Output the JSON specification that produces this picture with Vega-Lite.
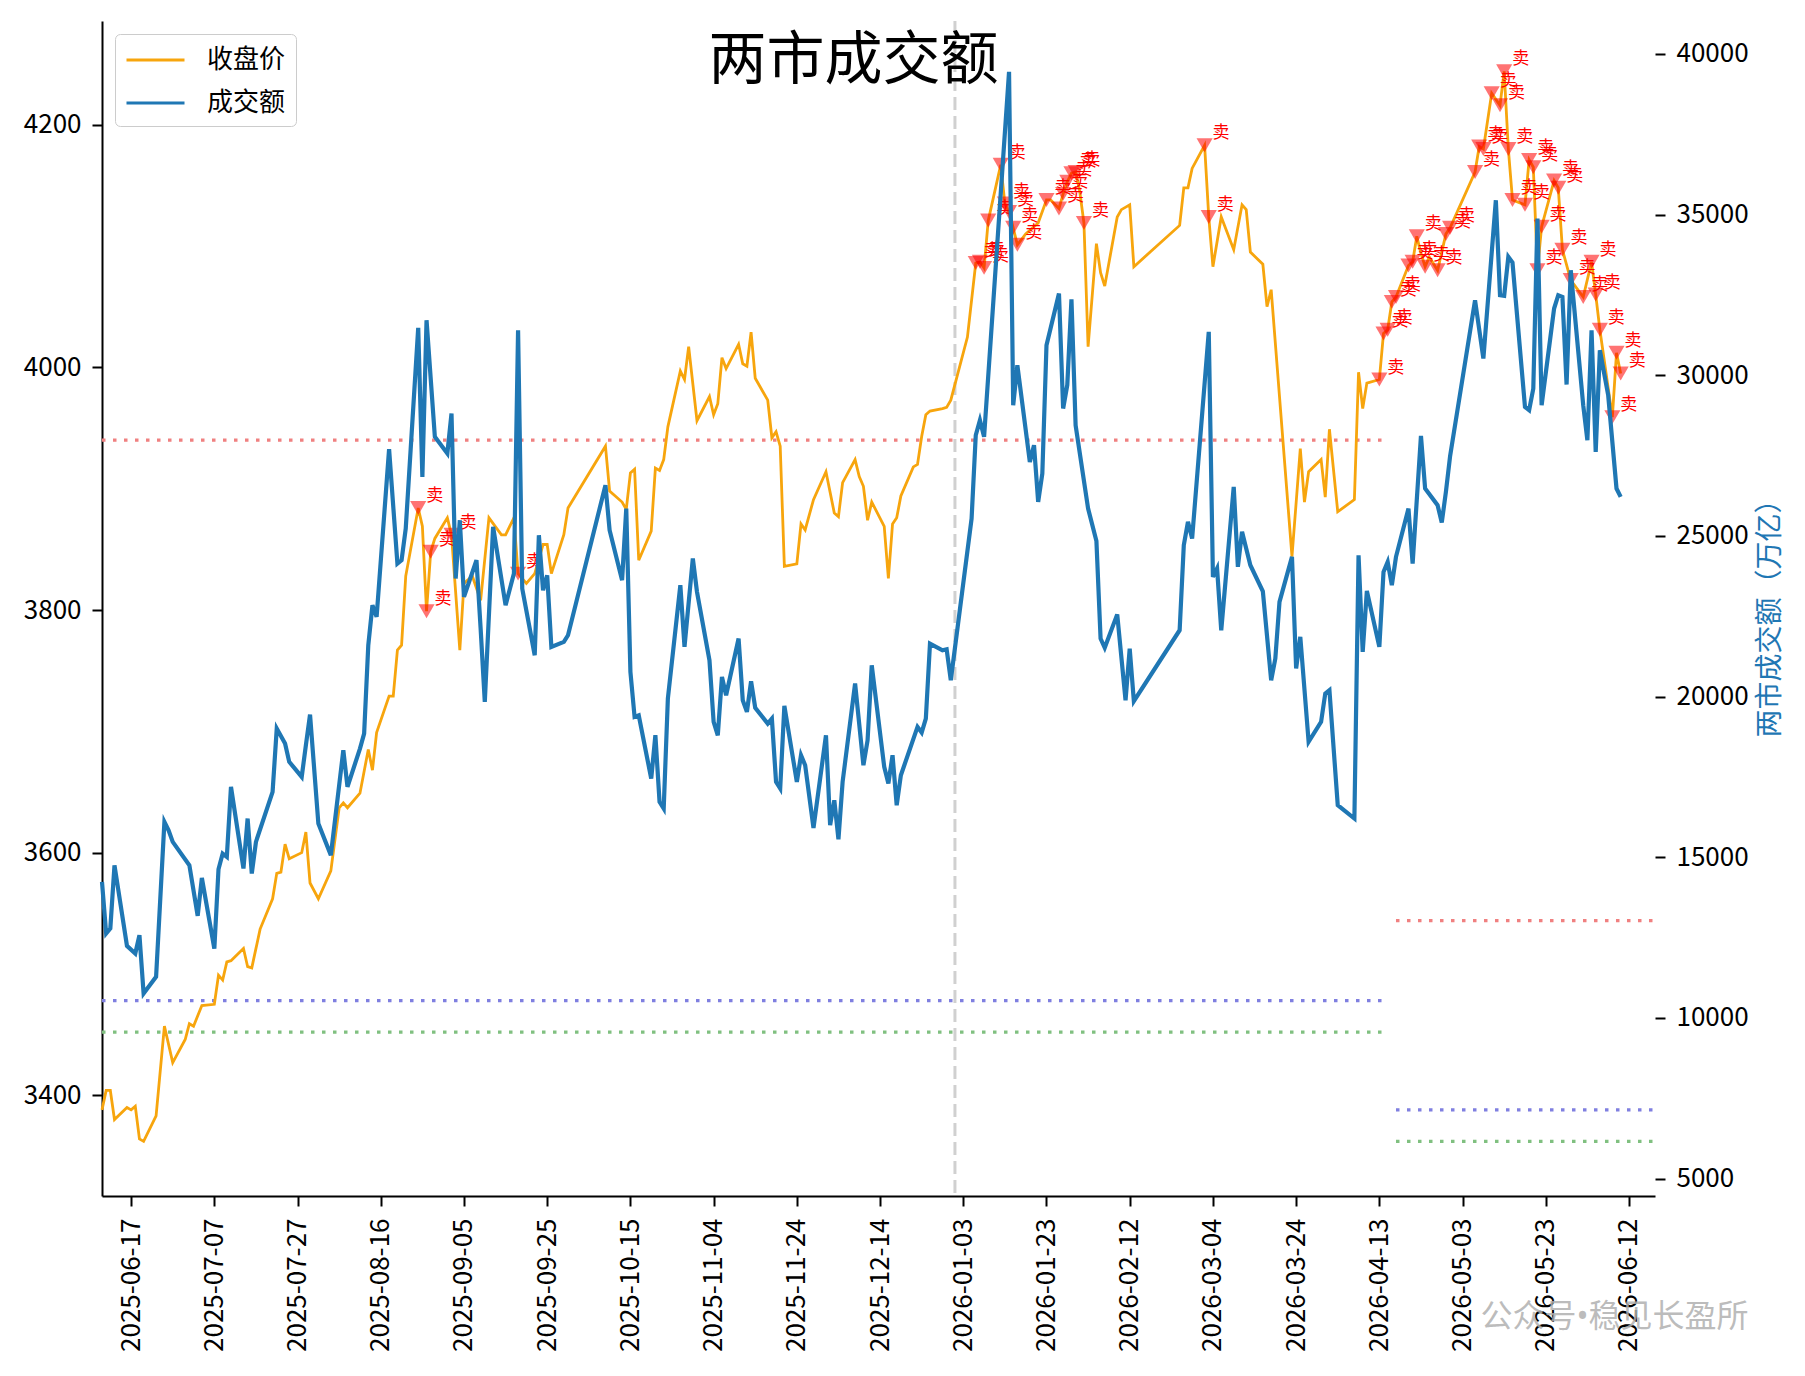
{
  "$schema": "https://vega.github.io/schema/vega-lite/v6.json",
  "autosize": {"type": "none"},
  "padding": {"left": 102, "top": 21, "right": 150, "bottom": 180},
  "width": 1553,
  "height": 1175,
  "title": {
    "text": "两市成交额",
    "font": "Noto Sans CJK SC",
    "fontSize": 58,
    "fontWeight": "normal",
    "color": "black",
    "anchor": "middle",
    "offset": -71,
    "dx": -25
  },
  "config": {
    "font": "Noto Sans CJK SC",
    "view": {"stroke": null},
    "axis": {
      "grid": false,
      "labelFont": "Noto Sans CJK SC",
      "labelFontSize": 26,
      "labelColor": "black",
      "tickColor": "black",
      "tickSize": 10,
      "tickWidth": 2,
      "domainColor": "black",
      "domainWidth": 2,
      "labelPadding": 11
    },
    "legend": {
      "orient": "top-left",
      "offset": 13,
      "padding": 10,
      "rowPadding": 14,
      "labelFont": "Noto Sans CJK SC",
      "labelFontSize": 26,
      "labelColor": "black",
      "labelOffset": 50,
      "labelLimit": 300,
      "symbolType": "M-1,0H3",
      "symbolSize": 841,
      "symbolStrokeWidth": 3,
      "strokeColor": "#cccccc",
      "fillColor": "#ffffff",
      "cornerRadius": 5
    }
  },
  "datasets": {
    "close": [
      {"date": "2025-06-10", "close": 3388}, {"date": "2025-06-11", "close": 3404}, {"date": "2025-06-12", "close": 3404},
      {"date": "2025-06-13", "close": 3380}, {"date": "2025-06-16", "close": 3390}, {"date": "2025-06-17", "close": 3388},
      {"date": "2025-06-18", "close": 3391}, {"date": "2025-06-19", "close": 3364}, {"date": "2025-06-20", "close": 3362},
      {"date": "2025-06-23", "close": 3383}, {"date": "2025-06-25", "close": 3457}, {"date": "2025-06-27", "close": 3427},
      {"date": "2025-06-30", "close": 3446}, {"date": "2025-07-01", "close": 3459}, {"date": "2025-07-02", "close": 3457},
      {"date": "2025-07-04", "close": 3474}, {"date": "2025-07-07", "close": 3475}, {"date": "2025-07-08", "close": 3499},
      {"date": "2025-07-09", "close": 3495}, {"date": "2025-07-10", "close": 3510}, {"date": "2025-07-11", "close": 3511},
      {"date": "2025-07-14", "close": 3521}, {"date": "2025-07-15", "close": 3506}, {"date": "2025-07-16", "close": 3505},
      {"date": "2025-07-18", "close": 3537}, {"date": "2025-07-21", "close": 3562}, {"date": "2025-07-22", "close": 3583},
      {"date": "2025-07-23", "close": 3584}, {"date": "2025-07-24", "close": 3607}, {"date": "2025-07-25", "close": 3595},
      {"date": "2025-07-28", "close": 3600}, {"date": "2025-07-29", "close": 3617}, {"date": "2025-07-30", "close": 3575},
      {"date": "2025-08-01", "close": 3562}, {"date": "2025-08-04", "close": 3585}, {"date": "2025-08-06", "close": 3637},
      {"date": "2025-08-07", "close": 3641}, {"date": "2025-08-08", "close": 3637}, {"date": "2025-08-11", "close": 3649},
      {"date": "2025-08-13", "close": 3685}, {"date": "2025-08-14", "close": 3668}, {"date": "2025-08-15", "close": 3699},
      {"date": "2025-08-18", "close": 3729}, {"date": "2025-08-19", "close": 3729}, {"date": "2025-08-20", "close": 3767},
      {"date": "2025-08-21", "close": 3771}, {"date": "2025-08-22", "close": 3828}, {"date": "2025-08-25", "close": 3884, "signal": "卖"},
      {"date": "2025-08-26", "close": 3869}, {"date": "2025-08-27", "close": 3799, "signal": "卖"}, {"date": "2025-08-28", "close": 3848, "signal": "卖"},
      {"date": "2025-08-29", "close": 3859}, {"date": "2025-09-01", "close": 3876}, {"date": "2025-09-02", "close": 3862, "signal": "卖"},
      {"date": "2025-09-04", "close": 3767}, {"date": "2025-09-05", "close": 3822}, {"date": "2025-09-07", "close": 3828},
      {"date": "2025-09-09", "close": 3808}, {"date": "2025-09-11", "close": 3876}, {"date": "2025-09-14", "close": 3862},
      {"date": "2025-09-15", "close": 3862}, {"date": "2025-09-17", "close": 3876}, {"date": "2025-09-18", "close": 3830, "signal": "卖"},
      {"date": "2025-09-20", "close": 3822}, {"date": "2025-09-22", "close": 3830}, {"date": "2025-09-24", "close": 3854},
      {"date": "2025-09-25", "close": 3854}, {"date": "2025-09-26", "close": 3830}, {"date": "2025-09-29", "close": 3862},
      {"date": "2025-09-30", "close": 3884}, {"date": "2025-10-09", "close": 3935}, {"date": "2025-10-10", "close": 3898},
      {"date": "2025-10-13", "close": 3889}, {"date": "2025-10-14", "close": 3883}, {"date": "2025-10-15", "close": 3913},
      {"date": "2025-10-16", "close": 3916}, {"date": "2025-10-17", "close": 3841}, {"date": "2025-10-20", "close": 3865},
      {"date": "2025-10-21", "close": 3917}, {"date": "2025-10-22", "close": 3915}, {"date": "2025-10-23", "close": 3924},
      {"date": "2025-10-24", "close": 3951}, {"date": "2025-10-27", "close": 3997}, {"date": "2025-10-28", "close": 3990},
      {"date": "2025-10-29", "close": 4017}, {"date": "2025-10-31", "close": 3956}, {"date": "2025-11-03", "close": 3976},
      {"date": "2025-11-04", "close": 3961}, {"date": "2025-11-05", "close": 3970}, {"date": "2025-11-06", "close": 4008},
      {"date": "2025-11-07", "close": 3999}, {"date": "2025-11-10", "close": 4019}, {"date": "2025-11-11", "close": 4003},
      {"date": "2025-11-12", "close": 4001}, {"date": "2025-11-13", "close": 4029}, {"date": "2025-11-14", "close": 3991},
      {"date": "2025-11-17", "close": 3973}, {"date": "2025-11-18", "close": 3942}, {"date": "2025-11-19", "close": 3947},
      {"date": "2025-11-20", "close": 3935}, {"date": "2025-11-21", "close": 3836}, {"date": "2025-11-24", "close": 3838},
      {"date": "2025-11-25", "close": 3871}, {"date": "2025-11-26", "close": 3866}, {"date": "2025-11-28", "close": 3891},
      {"date": "2025-12-01", "close": 3914}, {"date": "2025-12-03", "close": 3880}, {"date": "2025-12-04", "close": 3877},
      {"date": "2025-12-05", "close": 3905}, {"date": "2025-12-08", "close": 3924}, {"date": "2025-12-09", "close": 3910},
      {"date": "2025-12-10", "close": 3902}, {"date": "2025-12-11", "close": 3874}, {"date": "2025-12-12", "close": 3889},
      {"date": "2025-12-15", "close": 3869}, {"date": "2025-12-16", "close": 3826}, {"date": "2025-12-17", "close": 3871},
      {"date": "2025-12-18", "close": 3876}, {"date": "2025-12-19", "close": 3894}, {"date": "2025-12-22", "close": 3918},
      {"date": "2025-12-23", "close": 3920}, {"date": "2025-12-24", "close": 3943}, {"date": "2025-12-25", "close": 3961},
      {"date": "2025-12-26", "close": 3964}, {"date": "2025-12-29", "close": 3966}, {"date": "2025-12-30", "close": 3967},
      {"date": "2025-12-31", "close": 3973}, {"date": "2026-01-04", "close": 4025}, {"date": "2026-01-06", "close": 4086, "signal": "卖"},
      {"date": "2026-01-07", "close": 4087, "signal": "卖"}, {"date": "2026-01-08", "close": 4082, "signal": "卖"}, {"date": "2026-01-09", "close": 4121, "signal": "卖"},
      {"date": "2026-01-12", "close": 4167, "signal": "卖"}, {"date": "2026-01-13", "close": 4135, "signal": "卖"}, {"date": "2026-01-14", "close": 4128, "signal": "卖"},
      {"date": "2026-01-15", "close": 4115, "signal": "卖"}, {"date": "2026-01-16", "close": 4101, "signal": "卖"}, {"date": "2026-01-18", "close": 4110},
      {"date": "2026-01-21", "close": 4119}, {"date": "2026-01-23", "close": 4138, "signal": "卖"}, {"date": "2026-01-24", "close": 4138},
      {"date": "2026-01-26", "close": 4131, "signal": "卖"}, {"date": "2026-01-27", "close": 4143, "signal": "卖"}, {"date": "2026-01-28", "close": 4153, "signal": "卖"},
      {"date": "2026-01-29", "close": 4160, "signal": "卖"}, {"date": "2026-01-30", "close": 4161, "signal": "卖"}, {"date": "2026-01-31", "close": 4145},
      {"date": "2026-02-01", "close": 4119, "signal": "卖"}, {"date": "2026-02-02", "close": 4017}, {"date": "2026-02-04", "close": 4102},
      {"date": "2026-02-05", "close": 4078}, {"date": "2026-02-06", "close": 4067}, {"date": "2026-02-09", "close": 4124},
      {"date": "2026-02-10", "close": 4130}, {"date": "2026-02-12", "close": 4134}, {"date": "2026-02-13", "close": 4083},
      {"date": "2026-02-24", "close": 4117}, {"date": "2026-02-25", "close": 4148}, {"date": "2026-02-26", "close": 4148},
      {"date": "2026-02-27", "close": 4164}, {"date": "2026-03-02", "close": 4183, "signal": "卖"}, {"date": "2026-03-03", "close": 4124, "signal": "卖"},
      {"date": "2026-03-04", "close": 4083}, {"date": "2026-03-06", "close": 4124}, {"date": "2026-03-09", "close": 4097},
      {"date": "2026-03-11", "close": 4134}, {"date": "2026-03-12", "close": 4130}, {"date": "2026-03-13", "close": 4095},
      {"date": "2026-03-16", "close": 4085}, {"date": "2026-03-17", "close": 4050}, {"date": "2026-03-18", "close": 4064},
      {"date": "2026-03-23", "close": 3844}, {"date": "2026-03-25", "close": 3933}, {"date": "2026-03-26", "close": 3889},
      {"date": "2026-03-27", "close": 3914}, {"date": "2026-03-30", "close": 3924}, {"date": "2026-03-31", "close": 3893},
      {"date": "2026-04-01", "close": 3949}, {"date": "2026-04-03", "close": 3881}, {"date": "2026-04-07", "close": 3891},
      {"date": "2026-04-08", "close": 3996}, {"date": "2026-04-09", "close": 3966}, {"date": "2026-04-10", "close": 3987},
      {"date": "2026-04-13", "close": 3990, "signal": "卖"}, {"date": "2026-04-14", "close": 4028, "signal": "卖"}, {"date": "2026-04-15", "close": 4031, "signal": "卖"},
      {"date": "2026-04-16", "close": 4054, "signal": "卖"}, {"date": "2026-04-17", "close": 4058, "signal": "卖"}, {"date": "2026-04-20", "close": 4084, "signal": "卖"},
      {"date": "2026-04-21", "close": 4087, "signal": "卖"}, {"date": "2026-04-22", "close": 4108, "signal": "卖"}, {"date": "2026-04-23", "close": 4094},
      {"date": "2026-04-24", "close": 4083, "signal": "卖"}, {"date": "2026-04-25", "close": 4091}, {"date": "2026-04-27", "close": 4080, "signal": "卖"},
      {"date": "2026-04-29", "close": 4110, "signal": "卖"}, {"date": "2026-04-30", "close": 4115, "signal": "卖"}, {"date": "2026-05-06", "close": 4161, "signal": "卖"},
      {"date": "2026-05-07", "close": 4182, "signal": "卖"}, {"date": "2026-05-08", "close": 4180, "signal": "卖"}, {"date": "2026-05-10", "close": 4226, "signal": "卖"},
      {"date": "2026-05-12", "close": 4216, "signal": "卖"}, {"date": "2026-05-13", "close": 4244, "signal": "卖"}, {"date": "2026-05-14", "close": 4180, "signal": "卖"},
      {"date": "2026-05-15", "close": 4138, "signal": "卖"}, {"date": "2026-05-18", "close": 4134, "signal": "卖"}, {"date": "2026-05-19", "close": 4171, "signal": "卖"},
      {"date": "2026-05-20", "close": 4165, "signal": "卖"}, {"date": "2026-05-21", "close": 4080, "signal": "卖"}, {"date": "2026-05-22", "close": 4116, "signal": "卖"},
      {"date": "2026-05-25", "close": 4154, "signal": "卖"}, {"date": "2026-05-26", "close": 4148, "signal": "卖"}, {"date": "2026-05-27", "close": 4097, "signal": "卖"},
      {"date": "2026-05-29", "close": 4072, "signal": "卖"}, {"date": "2026-06-01", "close": 4058, "signal": "卖"}, {"date": "2026-06-03", "close": 4087, "signal": "卖"},
      {"date": "2026-06-04", "close": 4060, "signal": "卖"}, {"date": "2026-06-05", "close": 4031, "signal": "卖"}, {"date": "2026-06-08", "close": 3959, "signal": "卖"},
      {"date": "2026-06-09", "close": 4012, "signal": "卖"}, {"date": "2026-06-10", "close": 3995, "signal": "卖"}
    ],
    "amount": [
      {"date": "2025-06-10", "amount": 14236}, {"date": "2025-06-11", "amount": 12627}, {"date": "2025-06-12", "amount": 12783},
      {"date": "2025-06-13", "amount": 14752}, {"date": "2025-06-16", "amount": 12244}, {"date": "2025-06-18", "amount": 12004},
      {"date": "2025-06-19", "amount": 12574}, {"date": "2025-06-20", "amount": 10760}, {"date": "2025-06-23", "amount": 11279},
      {"date": "2025-06-25", "amount": 16103}, {"date": "2025-06-26", "amount": 15843}, {"date": "2025-06-27", "amount": 15480},
      {"date": "2025-07-01", "amount": 14752}, {"date": "2025-07-03", "amount": 13178}, {"date": "2025-07-04", "amount": 14360},
      {"date": "2025-07-07", "amount": 12160}, {"date": "2025-07-08", "amount": 14628}, {"date": "2025-07-09", "amount": 15116},
      {"date": "2025-07-10", "amount": 15013}, {"date": "2025-07-11", "amount": 17192}, {"date": "2025-07-14", "amount": 14650},
      {"date": "2025-07-15", "amount": 16206}, {"date": "2025-07-16", "amount": 14494}, {"date": "2025-07-17", "amount": 15480},
      {"date": "2025-07-21", "amount": 17036}, {"date": "2025-07-22", "amount": 19006}, {"date": "2025-07-24", "amount": 18540},
      {"date": "2025-07-25", "amount": 17970}, {"date": "2025-07-28", "amount": 17503}, {"date": "2025-07-29", "amount": 18487},
      {"date": "2025-07-30", "amount": 19442}, {"date": "2025-08-01", "amount": 16050}, {"date": "2025-08-04", "amount": 15064},
      {"date": "2025-08-07", "amount": 18331}, {"date": "2025-08-08", "amount": 17192}, {"date": "2025-08-11", "amount": 18384},
      {"date": "2025-08-12", "amount": 18851}, {"date": "2025-08-13", "amount": 21599}, {"date": "2025-08-14", "amount": 22844},
      {"date": "2025-08-15", "amount": 22483}, {"date": "2025-08-18", "amount": 27698}, {"date": "2025-08-20", "amount": 24141},
      {"date": "2025-08-21", "amount": 24245}, {"date": "2025-08-22", "amount": 25230}, {"date": "2025-08-25", "amount": 31476},
      {"date": "2025-08-26", "amount": 26839}, {"date": "2025-08-27", "amount": 31713}, {"date": "2025-08-29", "amount": 28084},
      {"date": "2025-09-01", "amount": 27564}, {"date": "2025-09-02", "amount": 28809}, {"date": "2025-09-03", "amount": 23674},
      {"date": "2025-09-04", "amount": 25489}, {"date": "2025-09-05", "amount": 23105}, {"date": "2025-09-08", "amount": 24245},
      {"date": "2025-09-09", "amount": 22118}, {"date": "2025-09-10", "amount": 19837}, {"date": "2025-09-12", "amount": 25283},
      {"date": "2025-09-15", "amount": 22844}, {"date": "2025-09-17", "amount": 23830}, {"date": "2025-09-18", "amount": 31402},
      {"date": "2025-09-19", "amount": 23363}, {"date": "2025-09-22", "amount": 21288}, {"date": "2025-09-23", "amount": 25022},
      {"date": "2025-09-24", "amount": 23310}, {"date": "2025-09-25", "amount": 23777}, {"date": "2025-09-26", "amount": 21549},
      {"date": "2025-09-29", "amount": 21705}, {"date": "2025-09-30", "amount": 21910}, {"date": "2025-10-09", "amount": 26578},
      {"date": "2025-10-10", "amount": 25178}, {"date": "2025-10-13", "amount": 23622}, {"date": "2025-10-14", "amount": 25853},
      {"date": "2025-10-15", "amount": 20771}, {"date": "2025-10-16", "amount": 19371}, {"date": "2025-10-17", "amount": 19420},
      {"date": "2025-10-20", "amount": 17450}, {"date": "2025-10-21", "amount": 18798}, {"date": "2025-10-22", "amount": 16725},
      {"date": "2025-10-23", "amount": 16517}, {"date": "2025-10-24", "amount": 19940}, {"date": "2025-10-27", "amount": 23466},
      {"date": "2025-10-28", "amount": 21549}, {"date": "2025-10-30", "amount": 24297}, {"date": "2025-10-31", "amount": 23261},
      {"date": "2025-11-03", "amount": 21132}, {"date": "2025-11-04", "amount": 19215}, {"date": "2025-11-05", "amount": 18798},
      {"date": "2025-11-06", "amount": 20615}, {"date": "2025-11-07", "amount": 20043}, {"date": "2025-11-10", "amount": 21807},
      {"date": "2025-11-11", "amount": 19887}, {"date": "2025-11-12", "amount": 19526}, {"date": "2025-11-13", "amount": 20478},
      {"date": "2025-11-14", "amount": 19651}, {"date": "2025-11-17", "amount": 19162}, {"date": "2025-11-18", "amount": 19317},
      {"date": "2025-11-19", "amount": 17348}, {"date": "2025-11-20", "amount": 17140}, {"date": "2025-11-21", "amount": 19713},
      {"date": "2025-11-24", "amount": 17348}, {"date": "2025-11-25", "amount": 18176}, {"date": "2025-11-26", "amount": 17865},
      {"date": "2025-11-28", "amount": 15916}, {"date": "2025-12-01", "amount": 18798}, {"date": "2025-12-02", "amount": 15997},
      {"date": "2025-12-03", "amount": 16775}, {"date": "2025-12-04", "amount": 15562}, {"date": "2025-12-05", "amount": 17348},
      {"date": "2025-12-08", "amount": 20407}, {"date": "2025-12-10", "amount": 17865}, {"date": "2025-12-11", "amount": 18642},
      {"date": "2025-12-12", "amount": 20976}, {"date": "2025-12-15", "amount": 17815}, {"date": "2025-12-16", "amount": 17295},
      {"date": "2025-12-17", "amount": 18176}, {"date": "2025-12-18", "amount": 16620}, {"date": "2025-12-19", "amount": 17553},
      {"date": "2025-12-23", "amount": 19059}, {"date": "2025-12-24", "amount": 18882}, {"date": "2025-12-25", "amount": 19317},
      {"date": "2025-12-26", "amount": 21652}, {"date": "2025-12-29", "amount": 21443}, {"date": "2025-12-30", "amount": 21474},
      {"date": "2025-12-31", "amount": 20510}, {"date": "2026-01-05", "amount": 25542}, {"date": "2026-01-06", "amount": 28134},
      {"date": "2026-01-07", "amount": 28601}, {"date": "2026-01-08", "amount": 28084}, {"date": "2026-01-14", "amount": 39443},
      {"date": "2026-01-15", "amount": 29068}, {"date": "2026-01-16", "amount": 30312}, {"date": "2026-01-19", "amount": 27300},
      {"date": "2026-01-20", "amount": 27824}, {"date": "2026-01-21", "amount": 26061}, {"date": "2026-01-22", "amount": 26942},
      {"date": "2026-01-23", "amount": 30935}, {"date": "2026-01-26", "amount": 32544}, {"date": "2026-01-27", "amount": 28965},
      {"date": "2026-01-28", "amount": 29700}, {"date": "2026-01-29", "amount": 32366}, {"date": "2026-01-30", "amount": 28445},
      {"date": "2026-02-02", "amount": 25853}, {"date": "2026-02-04", "amount": 24840}, {"date": "2026-02-05", "amount": 21807},
      {"date": "2026-02-06", "amount": 21520}, {"date": "2026-02-09", "amount": 22560}, {"date": "2026-02-11", "amount": 19887},
      {"date": "2026-02-12", "amount": 21496}, {"date": "2026-02-13", "amount": 19856}, {"date": "2026-02-24", "amount": 22066},
      {"date": "2026-02-25", "amount": 24711}, {"date": "2026-02-26", "amount": 25439}, {"date": "2026-02-27", "amount": 24919},
      {"date": "2026-03-03", "amount": 31352}, {"date": "2026-03-04", "amount": 23727}, {"date": "2026-03-05", "amount": 23990},
      {"date": "2026-03-06", "amount": 22066}, {"date": "2026-03-09", "amount": 26528}, {"date": "2026-03-10", "amount": 24039},
      {"date": "2026-03-11", "amount": 25128}, {"date": "2026-03-13", "amount": 24090}, {"date": "2026-03-16", "amount": 23279},
      {"date": "2026-03-18", "amount": 20510}, {"date": "2026-03-19", "amount": 21185}, {"date": "2026-03-20", "amount": 22949},
      {"date": "2026-03-23", "amount": 24350}, {"date": "2026-03-24", "amount": 20874}, {"date": "2026-03-25", "amount": 21860},
      {"date": "2026-03-27", "amount": 18593}, {"date": "2026-03-30", "amount": 19215}, {"date": "2026-03-31", "amount": 20096},
      {"date": "2026-04-01", "amount": 20200}, {"date": "2026-04-03", "amount": 16620}, {"date": "2026-04-07", "amount": 16206},
      {"date": "2026-04-08", "amount": 24400}, {"date": "2026-04-09", "amount": 21393}, {"date": "2026-04-10", "amount": 23290},
      {"date": "2026-04-13", "amount": 21549}, {"date": "2026-04-14", "amount": 23883}, {"date": "2026-04-15", "amount": 24194},
      {"date": "2026-04-16", "amount": 23466}, {"date": "2026-04-17", "amount": 24350}, {"date": "2026-04-20", "amount": 25853},
      {"date": "2026-04-21", "amount": 24141}, {"date": "2026-04-23", "amount": 28115}, {"date": "2026-04-24", "amount": 26475},
      {"date": "2026-04-27", "amount": 25956}, {"date": "2026-04-28", "amount": 25417}, {"date": "2026-04-29", "amount": 26373},
      {"date": "2026-04-30", "amount": 27480}, {"date": "2026-05-06", "amount": 32335}, {"date": "2026-05-08", "amount": 30521},
      {"date": "2026-05-11", "amount": 35447}, {"date": "2026-05-12", "amount": 32491}, {"date": "2026-05-13", "amount": 32472},
      {"date": "2026-05-14", "amount": 33686}, {"date": "2026-05-15", "amount": 33508}, {"date": "2026-05-18", "amount": 29018},
      {"date": "2026-05-19", "amount": 28912}, {"date": "2026-05-20", "amount": 29587}, {"date": "2026-05-21", "amount": 34878},
      {"date": "2026-05-22", "amount": 29068}, {"date": "2026-05-25", "amount": 32077}, {"date": "2026-05-26", "amount": 32491},
      {"date": "2026-05-27", "amount": 32441}, {"date": "2026-05-28", "amount": 29712}, {"date": "2026-05-29", "amount": 33269},
      {"date": "2026-06-01", "amount": 29068}, {"date": "2026-06-02", "amount": 27978}, {"date": "2026-06-03", "amount": 31402},
      {"date": "2026-06-04", "amount": 27617}, {"date": "2026-06-05", "amount": 30779}, {"date": "2026-06-07", "amount": 29379},
      {"date": "2026-06-09", "amount": 26475}, {"date": "2026-06-10", "amount": 26217}
    ],
    "levels": [
      {"date": "2025-06-10", "end": "2026-04-14T08:00:00Z", "level": 3940, "kind": "red"},
      {"date": "2025-06-10", "end": "2026-04-14T08:00:00Z", "level": 3478, "kind": "blue"},
      {"date": "2025-06-10", "end": "2026-04-14T08:00:00Z", "level": 3452, "kind": "green"},
      {"date": "2026-04-17", "end": "2026-06-18T06:00:00Z", "level": 3544, "kind": "red"},
      {"date": "2026-04-17", "end": "2026-06-18T06:00:00Z", "level": 3388, "kind": "blue"},
      {"date": "2026-04-17", "end": "2026-06-18T06:00:00Z", "level": 3362, "kind": "green"}
    ],
    "divider": [{"date": "2026-01-01"}]
  },
  "encoding": {
    "x": {
      "field": "date",
      "type": "temporal",
      "scale": {
        "type": "utc",
        "domain": [
          {"year": 2025, "month": 6, "date": 10, "utc": true},
          {"year": 2026, "month": 6, "date": 18, "hours": 6, "utc": true}
        ]
      },
      "axis": {
        "format": "%Y-%m-%d",
        "labelAngle": 270,
        "labelPadding": 12,
        "values": [
          {"year": 2025, "month": 6, "date": 17, "utc": true},
          {"year": 2025, "month": 7, "date": 7, "utc": true},
          {"year": 2025, "month": 7, "date": 27, "utc": true},
          {"year": 2025, "month": 8, "date": 16, "utc": true},
          {"year": 2025, "month": 9, "date": 5, "utc": true},
          {"year": 2025, "month": 9, "date": 25, "utc": true},
          {"year": 2025, "month": 10, "date": 15, "utc": true},
          {"year": 2025, "month": 11, "date": 4, "utc": true},
          {"year": 2025, "month": 11, "date": 24, "utc": true},
          {"year": 2025, "month": 12, "date": 14, "utc": true},
          {"year": 2026, "month": 1, "date": 3, "utc": true},
          {"year": 2026, "month": 1, "date": 23, "utc": true},
          {"year": 2026, "month": 2, "date": 12, "utc": true},
          {"year": 2026, "month": 3, "date": 4, "utc": true},
          {"year": 2026, "month": 3, "date": 24, "utc": true},
          {"year": 2026, "month": 4, "date": 13, "utc": true},
          {"year": 2026, "month": 5, "date": 3, "utc": true},
          {"year": 2026, "month": 5, "date": 23, "utc": true},
          {"year": 2026, "month": 6, "date": 12, "utc": true}
        ],
        "title": "公众号•稳见长盈所",
        "titleFont": "Noto Sans, Noto Sans CJK SC",
        "titleFontSize": 32,
        "titleFontWeight": "normal",
        "titleColor": "#b0b0b0",
        "titleOpacity": 0.85,
        "titleAlign": "right",
        "titleBaseline": "middle",
        "titleX": 1646,
        "titleY": 120
      }
    }
  },
  "layer": [
    {
      "layer": [
        {
          "data": {"name": "divider"},
          "mark": {"type": "rule", "color": "#d0d0d0", "strokeWidth": 3, "strokeDash": [13, 6]},
          "encoding": {}
        },
        {
          "data": {"name": "levels"},
          "mark": {"type": "rule", "strokeWidth": 3.3, "strokeDash": [3.5, 7.5]},
          "encoding": {
            "x2": {"field": "end"},
            "y": {"field": "level", "type": "quantitative", "title": null, "scale": {"domain": [3317, 4285.5], "nice": false, "zero": false}},
            "stroke": {"field": "kind", "type": "nominal", "scale": {"domain": ["red", "blue", "green"], "range": ["#f08080", "#7f7fe0", "#80c080"]}, "legend": null}
          }
        },
        {
          "data": {"name": "close"},
          "mark": {"type": "line", "strokeWidth": 2.8},
          "encoding": {
            "y": {
              "field": "close",
              "type": "quantitative",
              "title": null,
              "scale": {"domain": [3317, 4285.5], "nice": false, "zero": false},
              "axis": {"orient": "left", "values": [3400, 3600, 3800, 4000, 4200], "format": "d"}
            },
            "color": {
              "datum": "收盘价",
              "type": "nominal",
              "scale": {"domain": ["收盘价", "成交额"], "range": ["#f7a50d", "#1f77b4"]},
              "legend": {"title": null}
            }
          }
        },
        {
          "data": {"name": "close"},
          "transform": [{"filter": {"field": "signal", "equal": "卖"}}],
          "mark": {"type": "point", "shape": "triangle-down", "filled": true, "fill": "red", "opacity": 0.55, "size": 260, "strokeWidth": 0},
          "encoding": {
            "y": {"field": "close", "type": "quantitative", "title": null, "scale": {"domain": [3317, 4285.5], "nice": false, "zero": false}}
          }
        },
        {
          "data": {"name": "close"},
          "transform": [{"filter": {"field": "signal", "equal": "卖"}}],
          "mark": {"type": "text", "color": "red", "fontSize": 17, "align": "left", "baseline": "middle", "dx": 8, "dy": -12},
          "encoding": {
            "y": {"field": "close", "type": "quantitative", "title": null, "scale": {"domain": [3317, 4285.5], "nice": false, "zero": false}},
            "text": {"field": "signal"}
          }
        }
      ]
    },
    {
      "data": {"name": "amount"},
      "mark": {"type": "line", "strokeWidth": 4.2},
      "encoding": {
        "y": {
          "field": "amount",
          "type": "quantitative",
          "scale": {"domain": [4460, 41025], "nice": false, "zero": false},
          "axis": {
            "orient": "right",
            "domain": false,
            "values": [5000, 10000, 15000, 20000, 25000, 30000, 35000, 40000],
            "format": "d",
            "title": "两市成交额（万亿）",
            "titleFont": "Noto Sans CJK SC",
            "titleFontSize": 28,
            "titleFontWeight": "normal",
            "titleColor": "#1f77b4",
            "titleAngle": 270,
            "titleAlign": "center",
            "titleBaseline": "middle",
            "titleX": 115,
            "titleY": 590
          }
        },
        "color": {"datum": "成交额", "type": "nominal"}
      }
    }
  ],
  "resolve": {"scale": {"y": "independent"}}
}
